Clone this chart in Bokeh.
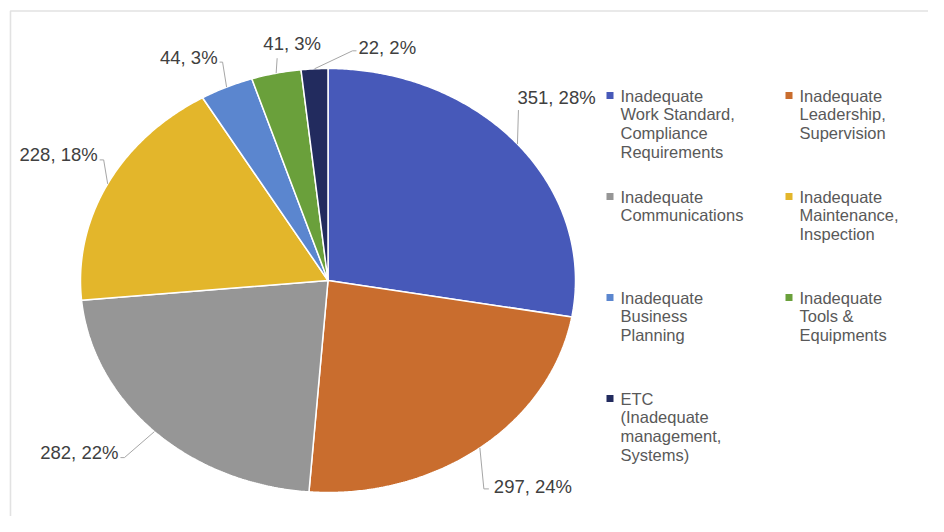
import numpy as np
from bokeh.plotting import figure
from bokeh.models import Range1d
from bokeh.embed import file_html
from bokeh.resources import INLINE
from bokeh.core.properties import value

# ---------------- data ----------------
categories = [
    "Inadequate\nWork Standard,\nCompliance\nRequirements",
    "Inadequate\nLeadership,\nSupervision",
    "Inadequate\nCommunications",
    "Inadequate\nMaintenance,\nInspection",
    "Inadequate\nBusiness\nPlanning",
    "Inadequate\nTools &\nEquipments",
    "ETC\n(Inadequate\nmanagement,\nSystems)",
]
counts = [351, 297, 282, 228, 44, 41, 22]
percent_labels = ["28%", "24%", "22%", "18%", "3%", "3%", "2%"]
colors = ["#4759b9", "#c96d2e", "#969696", "#e3b62b", "#5b86cf", "#6aa03b", "#222b5e"]

# ---------------- layout ----------------
W, H = 928, 516
FONT = "Liberation Sans"
cx, cy, rx, ry = 327.5, 280.0, 247.5, 212.0

# leader-line / label layout, offsets relative to slice anchor (mid-angle point on the rim)
elbow_off = [(1, -34), (4, 41), (-30, 26), (-4, -24), (-4, -25), (1, -15), (38, -18)]
end_off = [(1, -34), (9, 41), (-34, 26), (-8, -24), (-7, -25), (1, -15), (42, -18)]
text_off = [(0, -47), (14, 39), (-36, 21), (-10, -29), (-9, -30), (16, -30), (44, -21)]
text_align = ["left", "left", "right", "right", "right", "center", "left"]

p = figure(width=W, height=H, output_backend="svg", toolbar_location=None,
           x_range=Range1d(0, W), y_range=Range1d(H, 0),
           min_border=0, outline_line_color=None)
p.axis.visible = False
p.grid.visible = False
p.background_fill_color = "white"
p.border_fill_color = "white"

# chart-area border (only top/left visible in the window)
p.line([10, 10, 960], [560, 10.5, 10.5], line_color="#e2e2e2", line_width=1.6)

total = float(sum(counts))
fr = np.cumsum([0] + counts) / total
xs_all, ys_all, anchors = [], [], []
for i in range(len(counts)):
    a0, a1 = fr[i] * 2 * np.pi, fr[i + 1] * 2 * np.pi
    t = np.linspace(a0, a1, max(8, int((a1 - a0) * 120)))
    xs_all.append([cx] + list(cx + rx * np.sin(t)) + [cx])
    ys_all.append([cy] + list(cy - ry * np.cos(t)) + [cy])
    am = (a0 + a1) / 2
    anchors.append((cx + rx * np.sin(am), cy - ry * np.cos(am)))

p.patches(xs_all, ys_all, fill_color=colors, line_color="white", line_width=1.5)

# data labels with leader lines
for i, (ax, ay) in enumerate(anchors):
    ex, ey = elbow_off[i]
    nx, ny = end_off[i]
    p.line([ax, ax + ex, ax + nx], [ay, ay + ey, ay + ny], line_color="#a6a6a6", line_width=1)
    tx, ty = text_off[i]
    p.text([ax + tx], [ay + ty], text=[f"{counts[i]}, {percent_labels[i]}"],
           text_font=value(FONT), text_font_size="18.5px", text_color="#404040",
           text_align=text_align[i], text_baseline="middle")

# legend (two columns)
col_x = [606, 785]
row_y = [95, 196, 297, 398]
line_h = 18.7
for i, lab in enumerate(categories):
    c, r = i % 2, i // 2
    x0, y0 = col_x[c], row_y[r]
    p.rect([x0 + 3.5], [y0], width=7, height=7, fill_color=colors[i], line_color=None)
    lines = lab.split("\n")
    p.text([x0 + 14] * len(lines), [y0 + k * line_h for k in range(len(lines))], text=lines,
           text_font=value(FONT), text_font_size="16.5px", text_color="#595959",
           text_align="left", text_baseline="middle")

open("out.html", "w").write(file_html(p, INLINE))
